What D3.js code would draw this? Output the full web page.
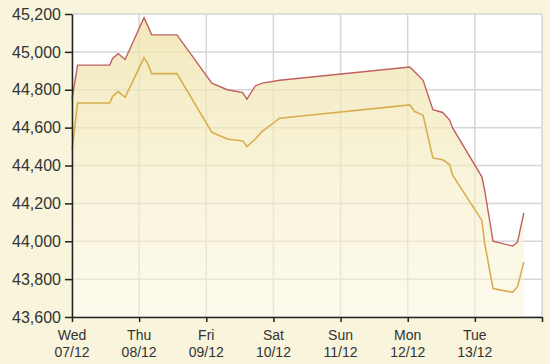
<!DOCTYPE html>
<html>
<head>
<meta charset="utf-8">
<script src="https://cdn.jsdelivr.net/npm/d3@7"></script>
<style>
  body { margin: 0; background: #f8f5dc; }
  svg { display: block; }
  .tick text { font-family: "Liberation Sans", Arial, sans-serif; fill: #333; }
</style>
</head>
<body>
<div id="chart"></div>
<script>
// times of the quotes (Dec 2011)
const times = [
    "2011-12-07 00:00", "2011-12-07 02:00", "2011-12-07 13:30", "2011-12-07 14:30",
    "2011-12-07 16:30", "2011-12-07 19:00", "2011-12-08 01:45", "2011-12-08 03:00",
    "2011-12-08 04:30", "2011-12-08 13:30", "2011-12-09 02:00", "2011-12-09 07:30",
    "2011-12-09 13:00", "2011-12-09 14:30", "2011-12-09 17:30", "2011-12-09 20:00",
    "2011-12-10 02:15", "2011-12-12 00:45", "2011-12-12 02:30", "2011-12-12 05:30",
    "2011-12-12 09:00", "2011-12-12 12:30", "2011-12-12 15:00", "2011-12-12 16:00",
    "2011-12-13 02:30", "2011-12-13 03:30", "2011-12-13 06:30", "2011-12-13 13:30",
    "2011-12-13 15:15", "2011-12-13 17:30"
];
const sellValues = [
    44750, 44930, 44930, 44965, 44990, 44960, 45180, 45140, 45090, 45090,
    44835, 44800, 44785, 44750, 44820, 44835, 44850, 44920, 44895, 44850,
    44695, 44680, 44640, 44600, 44340, 44270, 44000, 43975, 43995, 44150
];
const buyValues = [
    44480, 44730, 44730, 44765, 44790, 44760, 44970, 44940, 44885, 44885,
    44575, 44540, 44530, 44500, 44540, 44580, 44650, 44720, 44685, 44665,
    44440, 44430, 44405, 44350, 44110, 43990, 43750, 43730, 43760, 43890
];
const dayTicks = ["2011-12-07", "2011-12-08", "2011-12-09", "2011-12-10",
                  "2011-12-11", "2011-12-12", "2011-12-13"];
const yTicks = [43600, 43800, 44000, 44200, 44400, 44600, 44800, 45000, 45200];

const W = 550, H = 364;
const margin = {top: 14, right: 8, bottom: 47, left: 72};

const parseTime = d3.timeParse("%Y-%m-%d %H:%M");
const parseDay = d3.timeParse("%Y-%m-%d");
const sell = times.map((t, i) => ({date: parseTime(t), value: sellValues[i]}));
const buy = times.map((t, i) => ({date: parseTime(t), value: buyValues[i]}));
const days = dayTicks.map(parseDay);

const x = d3.scaleTime()
    .domain([parseDay("2011-12-07"), parseDay("2011-12-14")])
    .range([margin.left, W - margin.right]);
const y = d3.scaleLinear()
    .domain([43600, 45200])
    .range([H - margin.bottom, margin.top]);

const svg = d3.select("#chart").append("svg")
    .attr("width", W)
    .attr("height", H);

const defs = svg.append("defs");
const grad = defs.append("linearGradient")
    .attr("id", "fillGrad")
    .attr("x1", 0).attr("y1", 0).attr("x2", 0).attr("y2", 1);
grad.append("stop").attr("offset", "0%").attr("stop-color", "#efe3aa").attr("stop-opacity", 0.8);
grad.append("stop").attr("offset", "100%").attr("stop-color", "#fbf6dc").attr("stop-opacity", 0.5);

// plot background
svg.append("rect")
    .attr("x", margin.left).attr("y", margin.top)
    .attr("width", W - margin.right - margin.left)
    .attr("height", H - margin.bottom - margin.top)
    .attr("fill", "#ffffff");

// grid
svg.append("g").selectAll("line")
    .data(yTicks)
    .enter().append("line")
    .attr("x1", margin.left).attr("x2", W - margin.right)
    .attr("y1", d => y(d)).attr("y2", d => y(d))
    .attr("stroke", "#d6d6d6").attr("stroke-width", 1.5);
svg.append("g").selectAll("line")
    .data(days.concat([parseDay("2011-12-14")]))
    .enter().append("line")
    .attr("x1", d => x(d)).attr("x2", d => x(d))
    .attr("y1", margin.top).attr("y2", H - margin.bottom)
    .attr("stroke", "#d6d6d6").attr("stroke-width", 1.5);

// area under the sell line
const area = d3.area()
    .x(d => x(d.date))
    .y0(y(43600))
    .y1(d => y(d.value));
svg.append("path")
    .datum(sell)
    .attr("d", area)
    .attr("fill", "url(#fillGrad)");

const line = d3.line()
    .x(d => x(d.date))
    .y(d => y(d.value));
svg.append("path")
    .datum(buy)
    .attr("d", line)
    .attr("fill", "none")
    .attr("stroke", "#d9ad4f")
    .attr("stroke-width", 1.6);
svg.append("path")
    .datum(sell)
    .attr("d", line)
    .attr("fill", "none")
    .attr("stroke", "#bf6060")
    .attr("stroke-width", 1.4);

// axes
const yAxis = svg.append("g")
    .attr("transform", `translate(${margin.left},0)`)
    .call(d3.axisLeft(y).tickValues(yTicks).tickSize(7).tickSizeOuter(0)
        .tickFormat(d3.format(",")));
yAxis.selectAll("text").attr("font-size", 16).attr("dx", "-1");

const xAxis = svg.append("g")
    .attr("transform", `translate(0,${H - margin.bottom})`)
    .call(d3.axisBottom(x).tickValues(days.concat([parseDay("2011-12-14")]))
        .tickSize(5).tickSizeOuter(0).tickFormat(""));
xAxis.selectAll("path, line").attr("stroke", "#222").attr("stroke-width", 1.5);
yAxis.selectAll("path, line").attr("stroke", "#222").attr("stroke-width", 1.5);

const fmtDay = d3.timeFormat("%a");
const fmtDate = d3.timeFormat("%d/%m");
const labels = svg.append("g")
    .attr("font-family", "Liberation Sans, Arial, sans-serif")
    .attr("font-size", 14)
    .attr("fill", "#333")
    .attr("text-anchor", "middle");
labels.selectAll("text.day")
    .data(days)
    .enter().append("text")
    .attr("class", "day")
    .attr("x", d => x(d))
    .attr("y", 340)
    .text(d => fmtDay(d));
labels.selectAll("text.date")
    .data(days)
    .enter().append("text")
    .attr("class", "date")
    .attr("x", d => x(d))
    .attr("y", 357)
    .text(d => fmtDate(d));
</script>
</body>
</html>
